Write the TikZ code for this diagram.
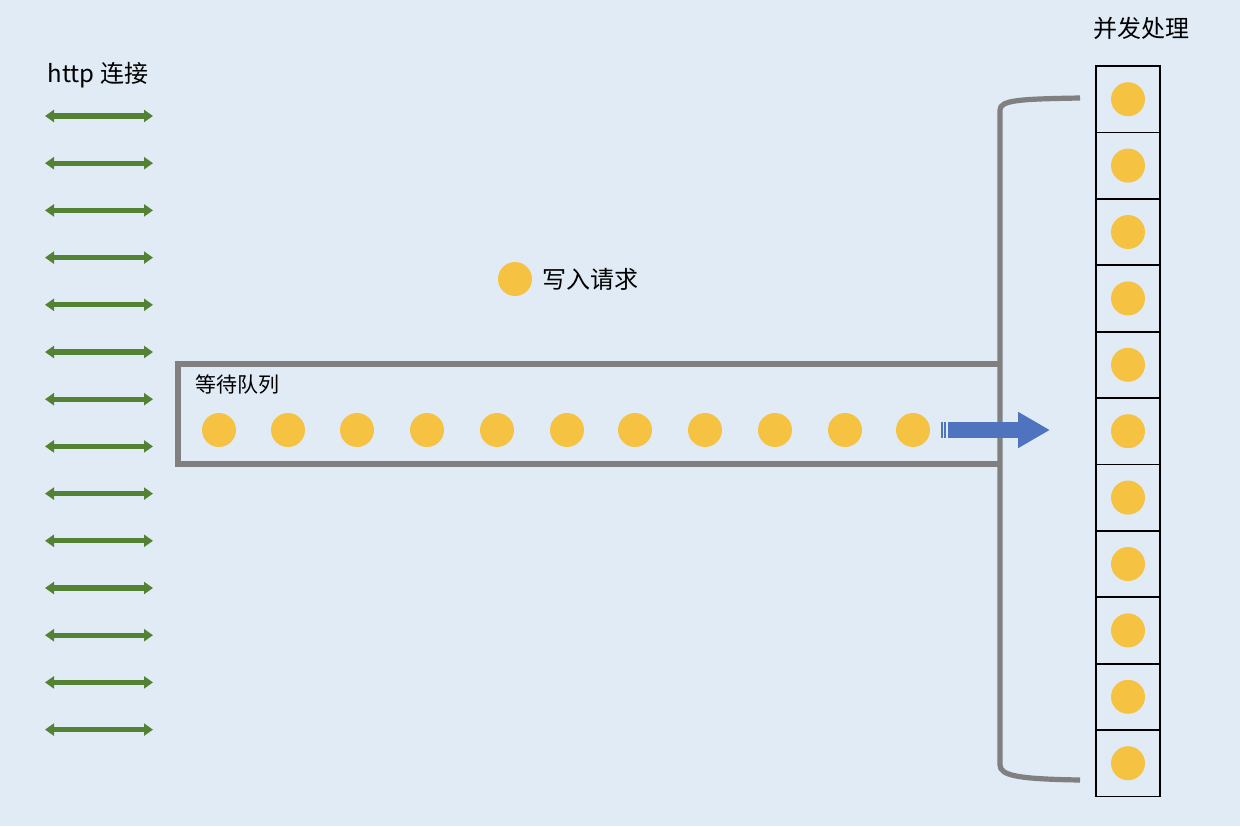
\documentclass[tikz,border=0pt]{standalone}
\usepackage{fontspec}
\setmainfont{Noto Sans CJK SC}
\usepackage{tikz}
\usetikzlibrary{arrows.meta,positioning}
\definecolor{bgblue}{RGB}{224,235,245}
\definecolor{dotyellow}{RGB}{245,194,66}
\definecolor{linkgreen}{RGB}{84,130,53}
\definecolor{flowblue}{RGB}{79,115,190}
\definecolor{wallgray}{RGB}{128,128,128}
\tikzset{
  req/.style={circle,fill=dotyellow,minimum size=17pt,inner sep=0pt},
  link/.style={linkgreen,line width=2.6pt,{Triangle[width=6pt,length=4.5pt]}-{Triangle[width=6pt,length=4.5pt]}},
  wall/.style={wallgray,line width=2.6pt},
  slot/.style={draw=black,line width=0.9pt,minimum width=32pt,minimum height=33.2pt,inner sep=0pt},
  lbl/.style={font=\fontsize{12}{14}\selectfont,inner sep=0pt}
}
\begin{document}
\begin{tikzpicture}[x=0.5pt,y=-0.5pt]
        \fill[bgblue] (0,0) rectangle (1240,826);
        \useasboundingbox (0,0) rectangle (1240,826);

        % http connections
        \node[lbl] (http) at (98,75) {http 连接};
        \foreach \i in {0,...,13} {
            \coordinate (l\i) at (45,116+\i*47.2);
            \coordinate (r\i) at (153,116+\i*47.2);
            \draw[link] (l\i) -- (r\i);
        }

        % legend
        \node[req] (legend) at (515,279) {};
        \node[lbl,right=5pt of legend] (legendtext) {写入请求};

        % waiting queue
        \draw[wall] (1000,364) -- (178,364) -- (178,464) -- (1000,464);
        \node[lbl,anchor=west,font=\fontsize{10.5}{12}\selectfont] (queue) at (195,385) {等待队列};
        \foreach \x [count=\n] in {219,288,357,427,497,567,635,705,775,845,913} {
            \node[req] (q\n) at (\x,430) {};
        }

        % bracket
        \draw[wall] (1080,98) .. controls (1020,99) and (1000,100) .. (1000,110)
            -- (1000,765) .. controls (1000,776) and (1020,779) .. (1080,780);

        % flow arrow
        \coordinate (fs) at (948,430);
        \coordinate (fe) at (1050,430);
        \draw[flowblue,line width=8pt,-{Triangle[width=17pt,length=16pt]}] (fs) -- (fe);
        \draw[flowblue,line width=0.6pt] (942,422) -- (942,438) (945,422) -- (945,438);

        % concurrent processing
        \node[lbl] (proc) at (1141,28) {并发处理};
        \foreach \i in {0,...,10} {
            \node[slot] (s\i) at (1128,99.2+\i*66.4) {};
            \node[req] (d\i) at (s\i) {};
        }
\end{tikzpicture}
\end{document}
